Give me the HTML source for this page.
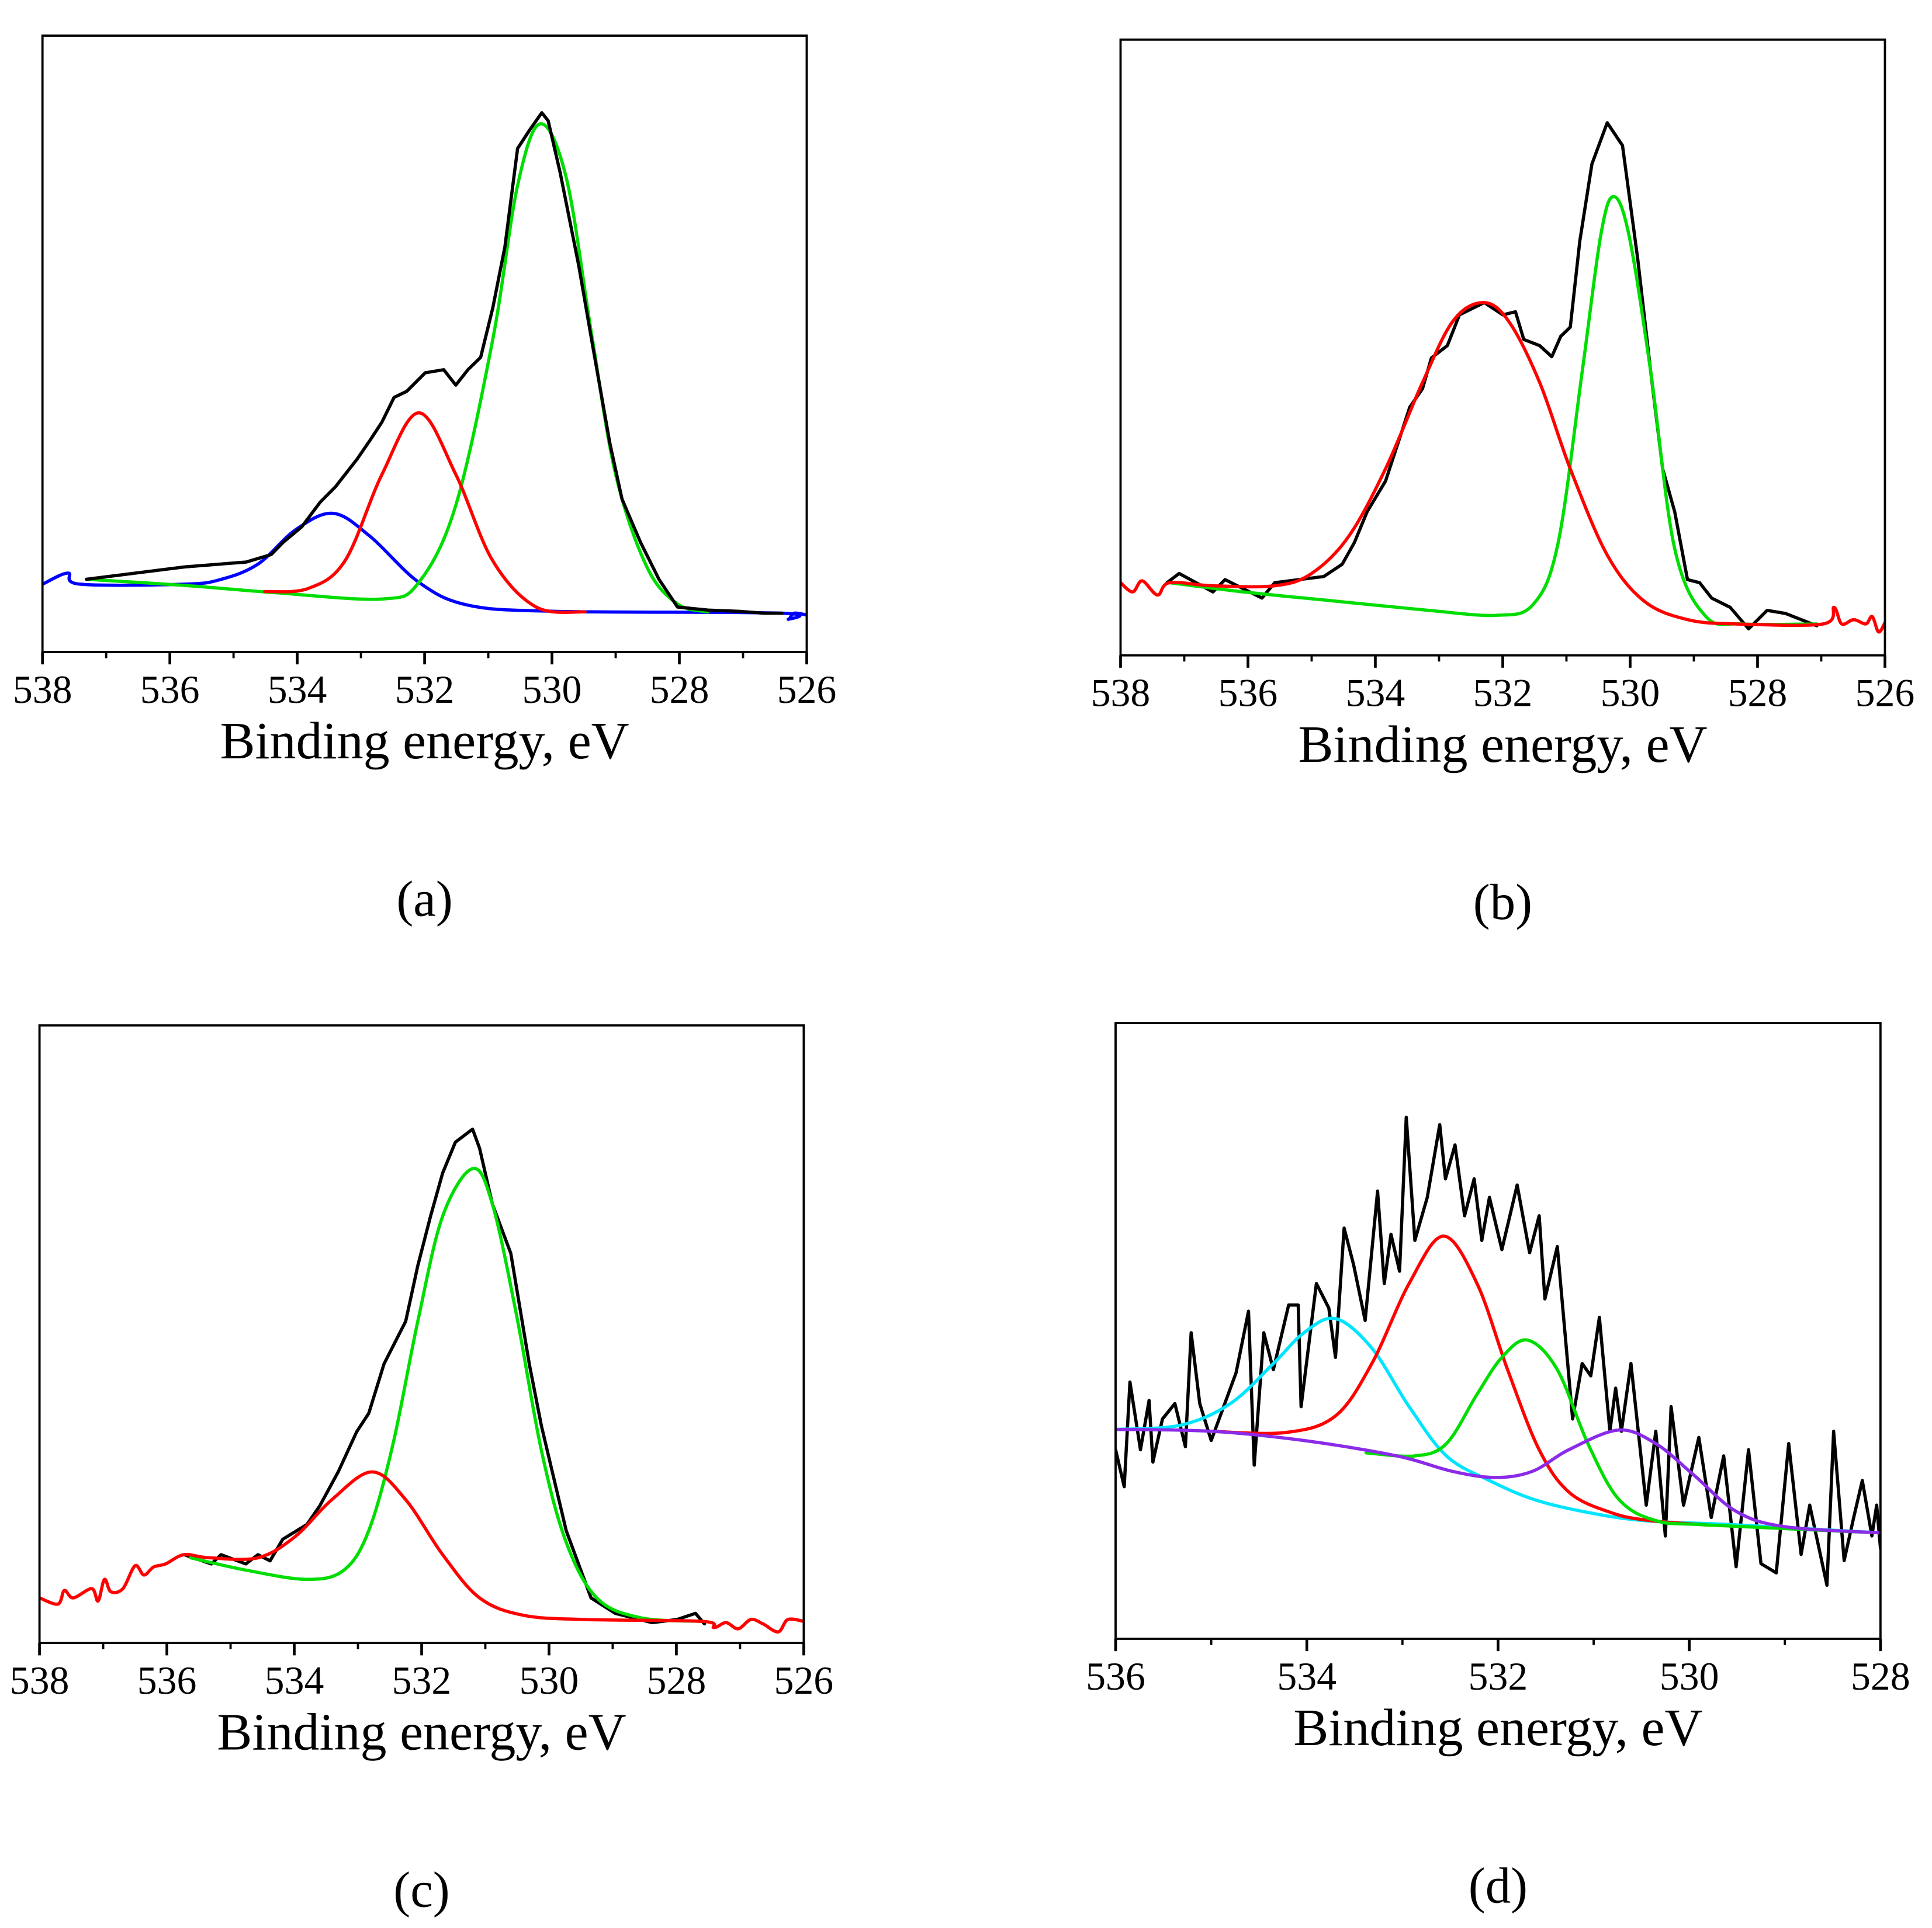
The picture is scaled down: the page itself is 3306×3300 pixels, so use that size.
<!DOCTYPE html>
<html><head><meta charset="utf-8"><style>
html,body{margin:0;padding:0;background:#fff}
svg{display:block}
text{font-family:"Liberation Serif",serif;fill:#000}
</style></head><body>
<svg id="fig" width="3306" height="3300" viewBox="0 0 1560 1557.2" preserveAspectRatio="none" xmlns="http://www.w3.org/2000/svg"></svg>
<script>
// ---- Panel (a) data: [binding energy eV, intensity % of frame height]
const aBlackE=[537.31,535.77,534.80,534.41,534.22,533.93,533.64,533.40,533.06,532.86,532.67,532.48,532.28,531.99,531.70,531.51,531.32,531.12,530.93,530.74,530.54,530.35,530.16,530.06,529.87,529.58,529.38,529.09,528.90,528.61,528.32,528.03,527.55,527.06,526.68,526.39];
const aBlackI=[11.8,13.8,14.6,15.8,17.8,20.3,24.3,26.8,31.3,34.3,37.3,41.3,42.3,45.3,45.8,43.3,45.8,47.8,55.8,65.7,81.7,84.7,87.5,86.2,77.7,62.7,50.8,33.8,24.8,17.8,11.8,7.3,6.8,6.6,6.3,6.3];
const aBlueE=[538,537.6,537.41,535.77,535.19,534.61,534.03,533.44,532.86,532.09,531.32,529.96,526.4,526.29,526.2,526];
const aBlueI=[11.0,12.8,11.0,11.0,11.8,14.3,19.8,22.5,18.8,11.3,7.6,6.6,6.3,5.3,6.3,6.0];
const aRedE=[534.51,533.83,533.25,532.67,532.09,531.51,530.93,530.25,529.48];
const aRedI=[9.8,10.3,14.8,28.8,38.8,28.8,14.8,7.3,6.5];
const aGreenE=[537.31,535.77,534.32,532.67,532.09,531.51,530.93,530.54,530.18,529.77,529.38,529.0,528.51,528.03,527.55];
const aGreenI=[11.8,10.8,9.6,8.6,11.3,23.8,50.7,75.7,85.7,76.7,51.7,28.8,13.8,7.8,6.5];
// ---- Panel (b)
const bBlackE=[537.27,537.08,536.55,536.36,535.78,535.58,535.2,534.81,534.52,534.33,534.13,533.84,533.65,533.46,533.26,533.12,532.87,532.68,532.29,532.0,531.8,531.67,531.42,531.23,531.09,530.94,530.79,530.6,530.36,530.12,529.88,529.68,529.49,529.3,529.1,528.91,528.72,528.43,528.14,527.85,527.56,527.07];
const bBlackI=[11.8,13.3,10.3,12.3,9.3,11.8,12.3,12.8,14.8,18.3,23.3,28.3,34.3,40.3,43.3,48.3,50.3,55.3,57.3,55.3,55.8,51.3,50.3,48.5,51.8,53.3,67.3,79.8,86.5,82.8,64.3,46.3,30.3,23.3,12.3,11.8,9.3,7.8,4.3,7.3,6.8,4.8];
const bRedE=[538,537.81,537.66,537.42,537.23,536.55,535.58,535.0,534.42,533.84,533.26,532.78,532.31,531.91,531.42,530.94,530.36,529.78,529.1,528.33,526.97,526.8,526.68,526.49,526.3,526.2,526.1,526];
const bRedI=[11.8,10.3,12.1,9.8,11.8,11.3,11.3,13.3,19.3,30.3,44.3,54.3,57.3,54.3,44.3,30.3,16.3,8.8,5.8,5.1,5.1,7.8,5.1,5.8,5.1,6.3,3.8,5.3];
const bGreenE=[537.23,536.07,534.62,533.16,532.1,531.52,531.13,530.75,530.46,530.26,530.02,529.68,529.3,528.81,528.23,527.07];
const bGreenI=[11.8,10.3,8.8,7.3,6.5,8.3,18.3,46.3,68.3,74.5,68.3,46.3,17.3,6.3,5.1,5.1];
// ---- Panel (c)
const cBlackE=[535.73,535.3,535.15,534.76,534.57,534.38,534.18,533.8,533.6,533.31,533.02,532.83,532.59,532.25,532.06,531.86,531.67,531.47,531.2,531.09,530.89,530.6,530.31,530.12,529.73,529.34,528.96,528.38,527.99,527.7,527.56];
const cBlackI=[14.3,12.8,14.3,12.8,14.3,13.3,16.8,19.2,22.2,27.7,34.2,37.2,45.2,52.1,61.1,69.1,76.1,81.1,83.2,80.1,71.1,63.1,45.2,35.2,18.2,7.3,4.8,3.3,3.8,4.8,3.1];
const cRedE=[538,537.71,537.61,537.47,537.18,537.08,536.98,536.88,536.69,536.5,536.36,536.21,536.02,535.73,535.34,534.57,533.99,533.41,532.78,532.25,531.67,531.09,530.41,529.44,527.6,527.41,527.22,527.03,526.83,526.64,526.4,526.25,526];
const cRedI=[7.3,6.3,8.5,7.3,8.8,6.8,10.3,8.3,8.8,12.5,11.0,12.3,12.8,14.3,13.8,13.8,17.2,23.2,27.7,23.2,14.3,7.3,4.5,3.8,3.5,2.5,3.3,2.3,3.8,3.1,1.8,3.8,3.5];
const cGreenE=[535.63,534.76,533.8,533.22,532.83,532.45,532.06,531.67,531.2,530.89,530.51,530.12,529.73,529.25,528.57,527.6];
const cGreenI=[13.8,11.8,10.3,11.8,18.2,32.2,52.1,69.1,76.8,71.1,53.1,31.2,16.3,7.3,4.1,3.5];
// ---- Panel (d)
const dBlackE=[536,535.91,535.85,535.74,535.65,535.61,535.51,535.38,535.27,535.21,535.12,535.0,534.74,534.61,534.55,534.45,534.35,534.19,534.09,534.06,533.9,533.77,533.7,533.61,533.51,533.39,533.26,533.19,533.12,533.03,532.96,532.87,532.74,532.61,532.55,532.45,532.35,532.25,532.17,532.09,531.96,531.8,531.67,531.57,531.51,531.38,531.22,531.12,531.03,530.94,530.83,530.77,530.71,530.61,530.45,530.35,530.25,530.19,530.06,529.9,529.77,529.64,529.51,529.38,529.25,529.09,528.96,528.83,528.74,528.56,528.49,528.38,528.28,528.19,528.09,528.04,528];
const dBlackI=[30.7,24.7,41.7,30.7,38.7,28.7,35.7,38.2,31.2,49.7,38.2,32.2,43.2,53.2,28.2,49.7,43.7,54.2,54.2,37.7,57.7,53.7,45.7,66.7,60.7,51.7,72.7,57.7,65.7,59.7,84.7,64.7,71.7,83.5,74.7,80.2,68.7,74.7,64.7,71.7,63.2,73.7,62.7,68.7,55.2,63.7,35.7,44.7,42.7,52.2,33.7,40.7,33.7,44.7,21.7,33.7,16.7,37.7,21.7,32.7,19.7,29.7,11.7,30.7,12.2,10.7,31.7,13.7,21.7,8.7,33.7,12.7,19.7,25.7,16.7,21.7,14.7];
const dCyanE=[536,535.32,534.8,534.35,534.03,533.7,533.32,532.93,532.54,532.09,531.64,531.12,530.48,529.51,528];
const dCyanI=[34,34.7,38.2,44.7,49.7,52,47.2,37.7,29.7,25.7,22.7,20.7,19.2,18.5,17.2];
const dRedE=[535.0,534.22,533.7,533.32,532.93,532.57,532.22,531.9,531.57,531.25,530.8,530.41,529.83];
const dRedI=[33.7,33.5,36.2,44.7,57.7,65.4,57.7,43.7,30.7,23.7,20.4,19.2,18.5];
const dGreenE=[533.38,532.87,532.54,532.22,531.96,531.69,531.38,531.06,530.74,530.35,529.83,528];
const dGreenI=[30.2,29.7,31.7,39.7,45.7,48.5,43.7,31.7,22.7,19.2,18.5,17.2];
const dPurpleE=[536,535.0,534.03,533.06,532.48,532.03,531.64,531.26,530.74,530.35,529.96,529.51,529.0,528];
const dPurpleI=[34,33.7,32.2,29.7,27.2,26.2,27.2,30.7,33.9,31.7,26.7,20.7,18.2,17.2];
// ---- Axis tick labels
const ticksWide=[538,536,534,532,530,528,526];
const ticksNarrow=[536,534,532,530,528];

const NS='http://www.w3.org/2000/svg';
const svg=document.getElementById('fig');
function el(tag,attrs,parent){const e=document.createElementNS(NS,tag);for(const k in attrs)e.setAttribute(k,attrs[k]);(parent||svg).appendChild(e);return e;}

const GREEN='#00dd00',RED='#ff0000',BLUE='#0000ff',CYAN='#00e5ff',PURPLE='#8b2be8',BLACK='#000000';

const panels=[
 {id:'a',x0:34.3,x1:651.4,y0:28.8,y1:526.6,emax:538,emin:526,ticks:ticksWide,
  series:[['blue-fit',aBlueE,aBlueI,BLUE,true],['green-fit',aGreenE,aGreenI,GREEN,true],['red-fit',aRedE,aRedI,RED,true],['measured-spectrum',aBlackE,aBlackI,BLACK,false]]},
 {id:'b',x0:904.8,x1:1522,y0:32.0,y1:529.3,emax:538,emin:526,ticks:ticksWide,
  series:[['measured-spectrum',bBlackE,bBlackI,BLACK,false],['green-fit',bGreenE,bGreenI,GREEN,true],['red-fit',bRedE,bRedI,RED,true]]},
 {id:'c',x0:31.9,x1:649,y0:828.2,y1:1327,emax:538,emin:526,ticks:ticksWide,
  series:[['measured-spectrum',cBlackE,cBlackI,BLACK,false],['green-fit',cGreenE,cGreenI,GREEN,true],['red-fit',cRedE,cRedI,RED,true]]},
 {id:'d',x0:900.8,x1:1518.4,y0:826.3,y1:1323.6,emax:536,emin:528,ticks:ticksNarrow,
  series:[['measured-spectrum',dBlackE,dBlackI,BLACK,false],['cyan-fit',dCyanE,dCyanI,CYAN,true],['red-fit',dRedE,dRedI,RED,true],['green-fit',dGreenE,dGreenI,GREEN,true],['purple-fit',dPurpleE,dPurpleI,PURPLE,true]]}
];

function smoothPath(pts){
  let d='M'+pts[0][0].toFixed(2)+','+pts[0][1].toFixed(2);
  for(let i=0;i<pts.length-1;i++){
    const p0=pts[i-1]||pts[i],p1=pts[i],p2=pts[i+1],p3=pts[i+2]||p2;
    const c1x=p1[0]+(p2[0]-p0[0])/6,c1y=p1[1]+(p2[1]-p0[1])/6;
    const c2x=p2[0]-(p3[0]-p1[0])/6,c2y=p2[1]-(p3[1]-p1[1])/6;
    d+=' C'+c1x.toFixed(2)+','+c1y.toFixed(2)+' '+c2x.toFixed(2)+','+c2y.toFixed(2)+' '+p2[0].toFixed(2)+','+p2[1].toFixed(2);
  }
  return d;
}

panels.forEach(p=>{
  const g=el('g',{});
  
  
  const sx=e=>p.x0+(p.emax-e)/(p.emax-p.emin)*(p.x1-p.x0);
  const sy=v=>p.y1-v/100*(p.y1-p.y0);
  const clip=el('clipPath',{id:'clip-'+p.id},g);
  el('rect',{x:p.x0,y:p.y0,width:p.x1-p.x0,height:p.y1-p.y0},clip);
  const sg=el('g',{'clip-path':'url(#clip-'+p.id+')'},g);
  
  
  p.series.forEach(s=>{
    const [name,E,I,col,smooth]=s;
    const pts=E.map((e,i)=>[sx(e),sy(I[i])]);
    const d=smooth?smoothPath(pts):'M'+pts.map(q=>q[0].toFixed(2)+','+q[1].toFixed(2)).join(' L');
    const path=el('path',{d:d,fill:'none',stroke:col,'stroke-width':2.6,'stroke-linejoin':'round','stroke-linecap':'round'},sg);
    
    
  });
  const fr=el('rect',{x:p.x0,y:p.y0,width:p.x1-p.x0,height:p.y1-p.y0,fill:'none',stroke:'#000','stroke-width':1.8},g);
  
  
  for(let e=p.emin;e<=p.emax;e+=1){
    const major=p.ticks.indexOf(e)>=0;
    const t=el('line',{x1:sx(e),x2:sx(e),y1:p.y1,y2:p.y1+(major?10:5),stroke:'#000','stroke-width':major?2.2:1.8},g);
    
    
  }
  p.ticks.forEach(v=>{
    const t=el('text',{x:sx(v),y:p.y1+41,'text-anchor':'middle','font-size':32},g);
    t.textContent=String(v);
    
    
  });
  const cx=(p.x0+p.x1)/2;
  const ti=el('text',{x:cx,y:p.y1+86,'text-anchor':'middle','font-size':42.5},g);
  ti.textContent='Binding energy, eV';
  
  
  const lb=el('text',{x:cx,y:p.y1+213,'text-anchor':'middle','font-size':41},g);
  lb.textContent='('+p.id+')';
  
  
});
</script>
</body></html>
